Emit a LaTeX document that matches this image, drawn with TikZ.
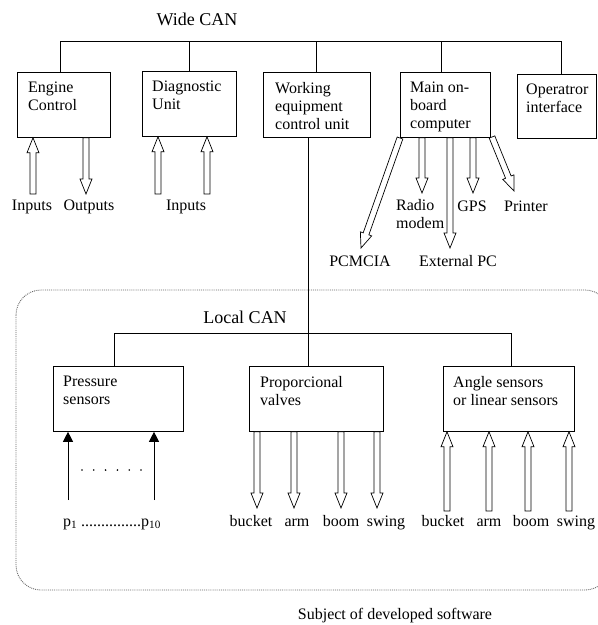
\documentclass[tikz,border=0pt]{standalone}
\usepackage{fontspec}
\setmainfont{Liberation Serif}
\usetikzlibrary{calc,arrows.meta}

\tikzset{
  unit/.style={draw, line width=0.8pt, anchor=north west, inner sep=0pt, minimum height=65pt},
  intext/.style={anchor=north west, align=left, inner sep=0pt, font=\fontsize{16}{18}\selectfont},
  lbl/.style={anchor=base, inner sep=0pt, font=\fontsize{16}{18}\selectfont},
  title/.style={anchor=base, inner sep=0pt, font=\fontsize{18}{20}\selectfont},
  bus/.style={line width=0.9pt},
  hollow/.style={draw, fill=white, line width=0.7pt, line join=miter},
  sensor/.style={line width=0.8pt, -{Triangle[length=10pt, width=10pt]}},
  region/.style={draw=black!60, densely dotted, line width=0.9pt, rounded corners=25pt}
}

% outlined block arrow from #1 (tail) to #2 (tip)
\newcommand{\hollowarrow}[2]{%
  \coordinate (ha) at #1;
  \coordinate (hb) at #2;
  \draw[hollow] ($(ha)!3pt!90:(hb)$) -- ($(hb)!15pt!(ha)!3pt!90:(hb)$)
    -- ($(hb)!15pt!(ha)!6pt!90:(hb)$) -- (hb)
    -- ($(hb)!15pt!(ha)!6pt!-90:(hb)$) -- ($(hb)!15pt!(ha)!3pt!-90:(hb)$)
    -- ($(ha)!3pt!-90:(hb)$) -- cycle;}

\begin{document}
\begin{tikzpicture}[x=1pt, y=1pt]
  \useasboundingbox (0,0) rectangle (598,-625);

  % Local CAN region
  \begin{scope}
    \clip (0,0) rectangle (598,-625);
    \draw[region] (16,-290) rectangle (610,-590);
  \end{scope}

  % Wide CAN units
  \node[title] (wcan) at (197,-25) {Wide CAN};
  \node[unit, minimum width=93pt] (ec) at (17,-72) {};
  \node[unit, minimum width=94pt] (du) at (142,-71) {};
  \node[unit, minimum width=107pt] (we) at (263,-72) {};
  \node[unit, minimum width=90pt] (mc) at (400,-72) {};
  \node[unit, minimum width=79pt, minimum height=64pt] (oi) at (517,-74) {};

  \node[intext] (ect) at ([shift={(11,-10)}]ec.north west) {Engine\\Control};
  \node[intext] (dut) at ([shift={(10,-10)}]du.north west) {Diagnostic\\Unit};
  \node[intext] (wet) at ([shift={(12,-10)}]we.north west) {Working\\equipment\\control unit};
  \node[intext] (mct) at ([shift={(10,-10)}]mc.north west) {Main on-\\board\\computer};
  \node[intext] (oit) at ([shift={(9,-10)}]oi.north west) {Operatror\\interface};

  % Wide CAN bus
  \foreach \n/\x in {ec/60, du/189, we/316, mc/441, oi/561} {
    \coordinate (\n-bus) at (\x,-41);
    \draw[bus] (\n-bus) -- (\n-bus |- \n.north);
  }
  \draw[bus] (ec-bus) -- (oi-bus);

  % Engine control and diagnostic unit
  \coordinate (ecin) at (33,-194);
  \coordinate (ecout) at (86,-194);
  \coordinate (duin1) at (158,-194);
  \coordinate (duin2) at (207,-194);
  \hollowarrow{(ecin)}{(ecin |- ec.south)}
  \hollowarrow{(ecout |- ec.south)}{(ecout)}
  \hollowarrow{(duin1)}{(duin1 |- du.south)}
  \hollowarrow{(duin2)}{(duin2 |- du.south)}
  \node[lbl] (ecinl) at (32,-210) {Inputs};
  \node[lbl] (ecoutl) at (89,-210) {Outputs};
  \node[lbl] (duinl) at (186,-210) {Inputs};

  % Main on-board computer
  \coordinate (pcm) at (361,-248);
  \coordinate (radio) at (422,-193);
  \coordinate (extpc) at (450,-248);
  \coordinate (gps) at (473,-193);
  \coordinate (prn) at (514,-191);
  \hollowarrow{(400,-138)}{(pcm)}
  \hollowarrow{(radio |- mc.south)}{(radio)}
  \hollowarrow{(extpc |- mc.south)}{(extpc)}
  \hollowarrow{(gps |- mc.south)}{(gps)}
  \hollowarrow{(492,-137)}{(prn)}
  \node[lbl] (pcml) at (360,-266) {PCMCIA};
  \node[intext] (radiol) at (396,-199) {Radio\\modem};
  \node[lbl] (extpcl) at (458,-266) {External PC};
  \node[lbl] (gpsl) at (472,-211) {GPS};
  \node[lbl] (prnl) at (526,-211) {Printer};

  % Local CAN units
  \node[title] (lcan) at (245,-323) {Local CAN};
  \node[unit, minimum width=130pt] (ps) at (53,-366) {};
  \node[unit, minimum width=134pt] (pv) at (249,-366) {};
  \node[unit, minimum width=131pt] (as) at (443,-366) {};

  \node[intext] (pst) at ([shift={(10,-10)}]ps.north west) {Pressure\\sensors};
  \node[intext] (pvt) at ([shift={(11,-10)}]pv.north west) {Proporcional\\valves};
  \node[intext] (ast) at ([shift={(10,-10)}]as.north west) {Angle sensors\\or linear sensors};

  % Local CAN bus
  \foreach \n/\x in {ps/114, as/511} {
    \coordinate (\n-bus) at (\x,-333);
    \draw[bus] (\n-bus) -- (\n-bus |- \n.north);
  }
  \draw[bus] (ps-bus) -- (as-bus);
  \coordinate (weo) at ([xshift=-8.5pt]we.south);
  \draw[bus] (weo) -- (weo |- pv.north);

  % Pressure sensors
  \coordinate (p1) at (68,-500);
  \coordinate (p10) at (154,-500);
  \draw[sensor] (p1) -- (p1 |- ps.south);
  \draw[sensor] (p10) -- (p10 |- ps.south);
  \foreach \i in {0,...,5}
    \fill (82+11.8*\i,-470) circle (0.9pt);
  \node[lbl] (pl) at (112,-526) {p\textsubscript{1} ...............p\textsubscript{10}};

  % Valves and angle sensors
  \foreach \n/\x/\t in {v1/257/bucket, v2/294/arm, v3/341/boom, v4/377/swing} {
    \coordinate (\n) at (\x,-508);
    \hollowarrow{(\n |- pv.south)}{(\n)}
  }
  \foreach \n/\x in {a1/447, a2/489, a3/528, a4/569} {
    \coordinate (\n) at (\x,-511);
    \hollowarrow{(\n)}{(\n |- as.south)}
  }
  \foreach \n/\x/\t in {v1l/251/bucket, v2l/297/arm, v3l/341/boom, v4l/386/swing,
                        a1l/443/bucket, a2l/489/arm, a3l/531/boom, a4l/576/swing}
    \node[lbl] (\n) at (\x,-526) {\t};

  \node[lbl] (subj) at (395,-619) {Subject of developed software};
\end{tikzpicture}
\end{document}
